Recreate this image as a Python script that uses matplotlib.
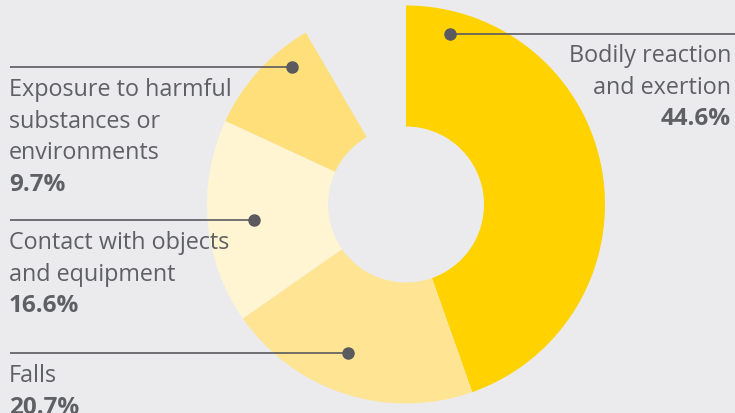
import matplotlib
matplotlib.use('Agg')
import matplotlib.pyplot as plt

# 数据
categories = ['Bodily reaction\nand exertion', 'Falls',
              'Contact with objects\nand equipment',
              'Exposure to harmful\nsubstances or\nenvironments']
shares = [44.6, 20.7, 16.6, 9.7]
share_labels = ['44.6%', '20.7%', '16.6%', '9.7%']

colors = ['#FFD200', '#FFE593', '#FFF5D3', '#FFDF7A']
BG = '#EBEBED'
TXT = '#5F6064'
DOT = '#5A5A5F'

W, H = 735, 414
fig = plt.figure(figsize=(W / 100, H / 100), dpi=100)
fig.patch.set_facecolor(BG)
ax = fig.add_axes([0, 0, 1, 1])
ax.set_facecolor(BG)

# 剩余部分留空
gap = 100 - sum(shares)
cx, cy = 406, H - 205.5
r_out, r_in = 199, 78
ax.pie(shares + [gap], colors=colors + ['none'], startangle=90, counterclock=False,
       center=(cx, cy), radius=r_out, frame=True,
       wedgeprops=dict(width=r_out - r_in, linewidth=0))

ax.set_xlim(0, W)
ax.set_ylim(0, H)
ax.set_aspect('equal')
ax.axis('off')

plt.rcParams['font.family'] = ['Open Sans', 'DejaVu Sans']

# 标注位置 (像素, 从上往下): 圆点, 引线起点, 文字位置, 对齐
layout = [
    dict(dot=(450, 35), line_end=735, text_x=731, ha='right', y0=53),
    dict(dot=(348, 354), line_end=10, text_x=9, ha='left', y0=373),
    dict(dot=(254, 221), line_end=10, text_x=9, ha='left', y0=240),
    dict(dot=(292, 68), line_end=10, text_x=9, ha='left', y0=87),
]
line_h = 31.7

for name, pct, lay in zip(categories, share_labels, layout):
    dx, dy = lay['dot']
    ax.plot([dx, lay['line_end']], [H - dy, H - dy], color=DOT, lw=1.2,
            solid_capstyle='butt', zorder=3)
    ax.plot(dx, H - dy, 'o', color=DOT, ms=8, zorder=4)
    lines = name.split('\n')
    for i, ln in enumerate(lines):
        ax.text(lay['text_x'], H - (lay['y0'] + i * line_h), ln, fontsize=16.8,
                color=TXT, ha=lay['ha'], va='center_baseline')
    ax.text(lay['text_x'], H - (lay['y0'] + len(lines) * line_h), pct,
            fontsize=17.5, fontweight='bold', color=TXT, ha=lay['ha'],
            va='center_baseline')

plt.savefig('out.png', dpi=100, facecolor=BG)
